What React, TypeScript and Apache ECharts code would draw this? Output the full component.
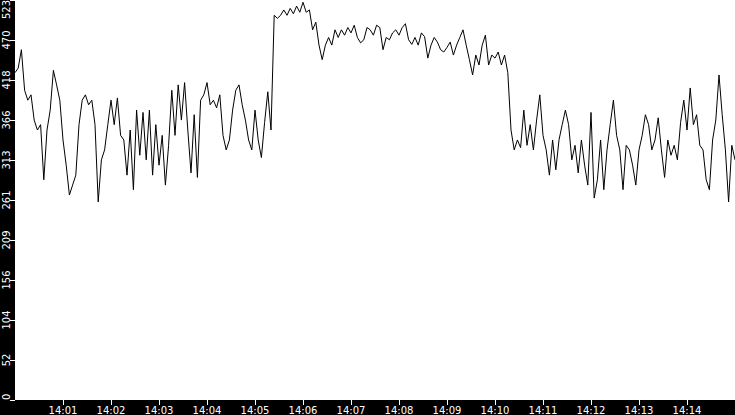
import { useEffect, useRef } from "react";
import * as echarts from "echarts";

// one reading every 4 seconds from 14:00:00 to 14:15:00
const startLabel = "14:00:00";
const stepSeconds = 4;

const values: number[] = [
  428, 434, 458, 405, 392, 399, 366, 353, 360, 288,
  353, 379, 431, 412, 392, 340, 307, 268, 281, 294,
  360, 392, 399, 386, 392, 360, 259, 314, 327, 360,
  392, 360, 395, 346, 340, 294, 353, 275, 379, 320,
  376, 314, 379, 294, 360, 307, 346, 281, 333, 405,
  346, 412, 366, 415, 353, 297, 373, 291, 392, 399,
  415, 386, 392, 382, 399, 346, 327, 340, 379, 405,
  412, 386, 366, 340, 327, 379, 340, 317, 363, 403,
  353, 503, 499, 503, 510, 503, 512, 505, 515, 507,
  520, 507, 510, 484, 494, 464, 445, 464, 474, 464,
  484, 474, 484, 477, 487, 480, 490, 474, 467, 471,
  487, 484, 477, 490, 487, 458, 474, 471, 480, 484,
  477, 487, 492, 471, 465, 474, 464, 480, 475, 447,
  464, 474, 468, 458, 455, 461, 468, 451, 464, 474,
  484, 464, 445, 425, 451, 438, 464, 477, 438, 451,
  447, 455, 438, 451, 428, 353, 327, 340, 330, 379,
  333, 360, 327, 366, 399, 346, 327, 294, 340, 301,
  340, 360, 379, 360, 314, 333, 297, 340, 307, 281,
  376, 264, 288, 340, 275, 327, 360, 392, 346, 327,
  275, 333, 327, 307, 281, 327, 346, 373, 360, 327,
  340, 369, 327, 291, 340, 320, 333, 314, 363, 392,
  353, 408, 360, 373, 333, 327, 288, 275, 340, 366,
  425, 373, 327, 259, 333, 314,
];

// x ticks (seconds after 14:00) and their labels
const xTickSeconds = [60, 120, 180, 240, 300, 360, 420, 480, 540, 600, 660, 720, 780, 840];
const xTickLabels = [
  "14:01", "14:02", "14:03", "14:04", "14:05", "14:06", "14:07",
  "14:08", "14:09", "14:10", "14:11", "14:12", "14:13", "14:14",
];

const yTicks = [0, 52.3, 104.6, 156.9, 209.2, 261.5, 313.8, 366.1, 418.4, 470.7, 523];
const yTickLabels = ["0", "52", "104", "156", "209", "261", "313", "366", "418", "470", "523"];

const FONT = "'DejaVu Sans', Verdana, sans-serif";

export default function App() {
  const chartRef = useRef<HTMLDivElement>(null);

  useEffect(() => {
    document.body.style.margin = "0";
    if (!chartRef.current) return;

    const chart = echarts.init(chartRef.current, null, { renderer: "svg" });

    const seriesData = values.map((v, i) => [i * stepSeconds, v]);

    chart.setOption({
      animation: false,
      backgroundColor: "#000",
      grid: {
        left: 15,
        right: 0,
        top: 0,
        bottom: 15,
        show: true,
        backgroundColor: "#fff",
        borderWidth: 0,
        outerBoundsMode: "none",
        containLabel: false,
      },
      xAxis: {
        type: "value",
        min: 0,
        max: 900,
        splitLine: { show: false },
        axisLine: { show: false },
        axisTick: {
          show: true,
          length: 5,
          lineStyle: { color: "#fff", width: 1 },
          customValues: xTickSeconds,
        },
        axisLabel: {
          color: "#fff",
          fontSize: 10,
          fontFamily: FONT,
          margin: 5,
          customValues: xTickSeconds,
          formatter: (v: number) => xTickLabels[xTickSeconds.indexOf(Math.round(v))] ?? "",
        },
      },
      yAxis: {
        type: "value",
        min: 0,
        max: 523,
        splitLine: { show: false },
        axisLine: { show: false },
        axisTick: {
          show: true,
          length: 5,
          lineStyle: { color: "#fff", width: 1 },
          customValues: yTicks,
        },
        axisLabel: {
          color: "#fff",
          fontSize: 10,
          fontFamily: FONT,
          rotate: 90,
          margin: 4,
          alignMinLabel: "left",
          alignMaxLabel: "right",
          customValues: yTicks,
          formatter: (v: number) => {
            const idx = yTicks.findIndex((t) => Math.abs(t - v) < 0.01);
            return idx >= 0 ? yTickLabels[idx] : "";
          },
        },
      },
      series: [
        {
          name: startLabel,
          type: "line",
          data: seriesData,
          showSymbol: false,
          symbol: "none",
          lineStyle: { color: "#000", width: 1 },
        },
      ],
    });

    return () => {
      chart.dispose();
    };
  }, []);

  return (
    <div
      ref={chartRef}
      style={{ width: 735, height: 415, position: "absolute", left: 0, top: 0 }}
    />
  );
}
